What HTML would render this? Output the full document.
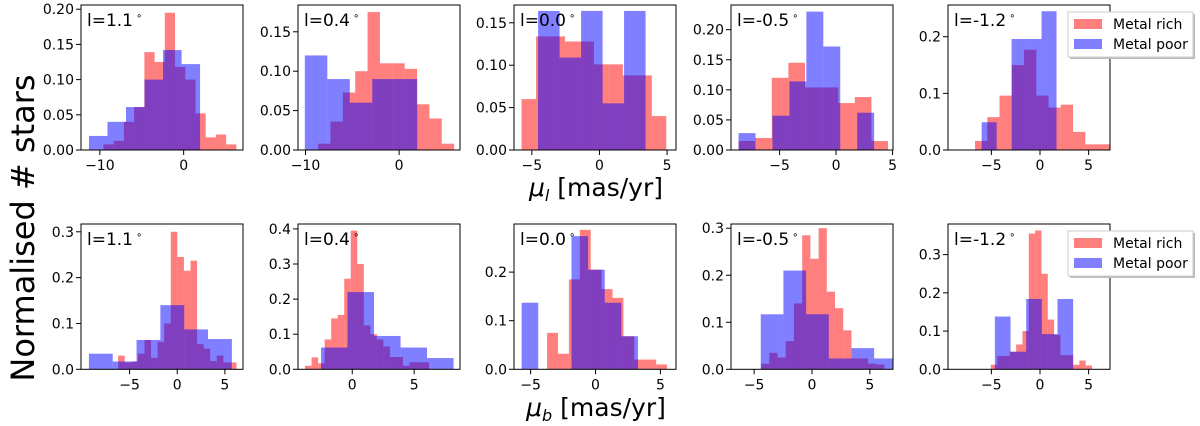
<!DOCTYPE html>
<html><head><meta charset="utf-8"><style>
body{margin:0;background:#fff;}
svg{display:block;font-family:"DejaVu Sans","Liberation Sans",sans-serif;}
</style></head><body>
<svg id="fig" width="1200" height="426" viewBox="0 0 1200 426" xmlns="http://www.w3.org/2000/svg">
<text x="0" y="0" transform="translate(34,228) rotate(-90)" font-size="32" text-anchor="middle">Normalised # stars</text>
<text x="596" y="196" font-size="25" text-anchor="middle"><tspan font-style="italic">μ</tspan><tspan font-style="italic" font-size="16" dy="5">l</tspan><tspan dy="-5"> [mas/yr]</tspan></text>
<text x="596" y="416" font-size="25" text-anchor="middle"><tspan font-style="italic">μ</tspan><tspan font-style="italic" font-size="16" dy="5">b</tspan><tspan dy="-5"> [mas/yr]</tspan></text>
</svg>
<script>
// ---- data: bin start, bin width, heights ----
const t1RichBins=[-9.57,1.22]; const t1Rich=[0.008,0.013,0.04,0.061,0.139,0.125,0.195,0.118,0.10,0.052,0.018,0.022,0.008];
const t1PoorBins=[-11.3,2.21]; const t1Poor=[0.02,0.04,0.061,0.10,0.142,0.122];
const t2RichBins=[-8.65,1.32]; const t2Rich=[0.008,0.036,0.073,0.10,0.175,0.11,0.11,0.103,0.058,0.04,0.008];
const t2PoorBins=[-10.07,2.4]; const t2Poor=[0.12,0.09,0.06,0.09,0.09];
const t3RichBins=[-5.76,1.07]; const t3Rich=[0.06,0.134,0.134,0.128,0.128,0.101,0.101,0.088,0.088,0.04];
const t3PoorBins=[-4.54,1.59]; const t3Poor=[0.164,0.109,0.164,0.055,0.164];
const t4RichBins=[-8.63,1.47]; const t4Rich=[0.015,0.02,0.12,0.145,0.104,0.104,0.078,0.088,0.015];
const t4PoorBins=[-8.63,1.5]; const t4Poor=[0.028,0,0.057,0.114,0.23,0.172,0,0.062];
const t5RichBins=[-6.68,1.26]; const t5Rich=[0.016,0.058,0.096,0.15,0.177,0.096,0.075,0.08,0.032,0.01,0.01];
const t5PoorBins=[-6.0,1.54]; const t5Poor=[0.049,0,0.196,0.196,0.245];
const b1RichBins=[-6.2,0.69]; const b1Rich=[0.03,0.015,0.017,0.034,0.064,0.025,0.06,0.1,0.3,0.245,0.215,0.237,0.055,0.045,0.018,0.03,0.015,0.015];
const b1PoorBins=[-9.27,2.5]; const b1Poor=[0.034,0.017,0.064,0.14,0.087,0.066];
const b2RichBins=[-3.81,0.527]; const b2Rich=[0.01,0.034,0.017,0.085,0.145,0.155,0.258,0.395,0.3,0.125,0.1,0.085,0.065,0.035,0.035,0.01,0.02,0.02,0.02];
const b2PoorBins=[-2.52,2.14]; const b2Poor=[0.062,0.22,0.095,0.062,0.032];
const b3RichBins=[-3.73,0.84]; const b3Rich=[0.075,0.032,0.185,0.287,0.205,0.165,0.147,0.068,0.02,0.02,0.01];
const b3PoorBins=[-5.69,1.28]; const b3Poor=[0.137,0,0,0.274,0.205,0.137,0.068];
const b4RichBins=[-4.4,0.71]; const b4Rich=[0.012,0.035,0.025,0.06,0.14,0.285,0.235,0.3,0.165,0.13,0.083,0.023,0.023,0.012,0.01];
const b4PoorBins=[-4.43,1.96]; const b4Poor=[0.117,0.21,0.117,0.023,0.045,0.023];
const b5RichBins=[-5.05,0.65]; const b5Rich=[0.012,0.035,0.035,0.046,0.065,0.1,0.355,0.363,0.25,0.13,0.09,0.037,0.037,0.012,0.023,0.01];
const b5PoorBins=[-4.64,1.61]; const b5Poor=[0.138,0.046,0.184,0.092,0.184];
const panelLabels=["l=1.1","l=0.4","l=0.0","l=-0.5","l=-1.2"];
const topXlims=[[-12.25,7.08],[-10.8,6.5],[-6.32,5.66],[-9.3,5.04],[-9.46,7.2]];
const topYmax=[0.206,0.184,0.171,0.241,0.256];
const topXticks=[[-10,0],[-10,0],[-5,0,5],[-5,0,5],[-5,0,5]];
const topYticks=[[0,0.05,0.10,0.15,0.20],[0,0.05,0.10,0.15],[0,0.05,0.10,0.15],[0,0.05,0.10,0.15,0.20],[0,0.1,0.2]];
const botXlims=[[-10.1,6.9],[-4.38,8.7],[-6.28,6.2],[-7.0,7.0],[-9.46,7.2]];
const botYmax=[0.317,0.414,0.299,0.309,0.38];
const botXticks=[[-5,0,5],[0,5],[-5,0,5],[-5,0,5],[-5,0,5]];
const botYticks=[[0,0.1,0.2,0.3],[0,0.1,0.2,0.3,0.4],[0,0.1,0.2],[0,0.1,0.2,0.3],[0,0.1,0.2,0.3]];
const legendLabels=["Metal rich","Metal poor"];

const NS="http://www.w3.org/2000/svg";
const svg=document.getElementById('fig');
function mk(tag,attrs,parent){const e=document.createElementNS(NS,tag);for(const k in attrs)e.setAttribute(k,attrs[k]);(parent||svg).appendChild(e);return e;}
const lefts=[81,298,514,731,948], W=162;
function panel(row,i,xlim,ymax,xt,yt,dec,rich,richBins,poor,poorBins){
  const top=row?224:5, bottom=row?369.3:150, L=lefts[i];
  const g=mk('g',{});
  
  
  const sx=v=>L+(v-xlim[0])/(xlim[1]-xlim[0])*W;
  const sy=v=>bottom-v/ymax*(bottom-top);
  const cp='clip'+row+i;
  const d=mk('clipPath',{id:cp},g); mk('rect',{x:L,y:top,width:W,height:bottom-top},d);
  const series=[[rich,richBins,'#ff0000','rich'],[poor,poorBins,'#0000ff','poor']];
  series.forEach(([vals,bins,col,nm])=>{
    vals.forEach((v,k)=>{ if(v<=0)return;
      const x0=sx(bins[0]+k*bins[1]), x1=sx(bins[0]+(k+1)*bins[1]);
      const r=mk('rect',{x:x0,y:sy(v),width:x1-x0,height:bottom-sy(v),fill:col,'fill-opacity':0.5,'clip-path':'url(#'+cp+')'},g);
      
      
    });
  });
  const fr=mk('rect',{x:L,y:top,width:W,height:bottom-top,fill:'none',stroke:'#000','stroke-width':1},g);
  
  
  xt.forEach(t=>{const x=sx(t);mk('line',{x1:x,x2:x,y1:bottom,y2:bottom+5,stroke:'#000'},g);
    const tx=mk('text',{x:x,y:bottom+20,'font-size':14,'text-anchor':'middle'},g);tx.textContent=(t<0?'−'+(-t):''+t);
    
    });
  yt.forEach(t=>{const y=sy(t);mk('line',{x1:L-5,x2:L,y1:y,y2:y,stroke:'#000'},g);
    const tx=mk('text',{x:L-7,y:y+5,'font-size':14,'text-anchor':'end'},g);tx.textContent=t.toFixed(dec);
    
    });
  const lb=mk('text',{x:L+6,y:top+21,'font-size':17},g);lb.textContent=panelLabels[i];
  
  
  const deg=mk('tspan',{'font-size':10,dy:-7,dx:3},lb);deg.textContent='∘';
}
const T=[[t1Rich,t1RichBins,t1Poor,t1PoorBins],[t2Rich,t2RichBins,t2Poor,t2PoorBins],[t3Rich,t3RichBins,t3Poor,t3PoorBins],[t4Rich,t4RichBins,t4Poor,t4PoorBins],[t5Rich,t5RichBins,t5Poor,t5PoorBins]];
const B=[[b1Rich,b1RichBins,b1Poor,b1PoorBins],[b2Rich,b2RichBins,b2Poor,b2PoorBins],[b3Rich,b3RichBins,b3Poor,b3PoorBins],[b4Rich,b4RichBins,b4Poor,b4PoorBins],[b5Rich,b5RichBins,b5Poor,b5PoorBins]];
for(let i=0;i<5;i++){
  panel(0,i,topXlims[i],topYmax[i],topXticks[i],topYticks[i],i==4?1:2,...T[i]);
  panel(1,i,botXlims[i],botYmax[i],botXticks[i],botYticks[i],1,...B[i]);
}
function legend(y0,nm){
  const g=mk('g',{});
  
  
  mk('rect',{x:1070,y:y0+2,width:125,height:45,fill:'#bbb'},g);
  mk('rect',{x:1068,y:y0,width:125,height:45,fill:'#fff',stroke:'#ccc'},g);
  legendLabels.forEach((t,k)=>{
    const sw=mk('rect',{x:1074,y:y0+7+k*20,width:28,height:10,fill:k?'#0000ff':'#ff0000','fill-opacity':0.5},g);
    
    
    const tx=mk('text',{x:1113,y:y0+17+k*20,'font-size':14},g);tx.textContent=t;
    
    
  });
}
legend(12,'legend-top');
legend(231,'legend-bottom');
</script>
</body></html>
